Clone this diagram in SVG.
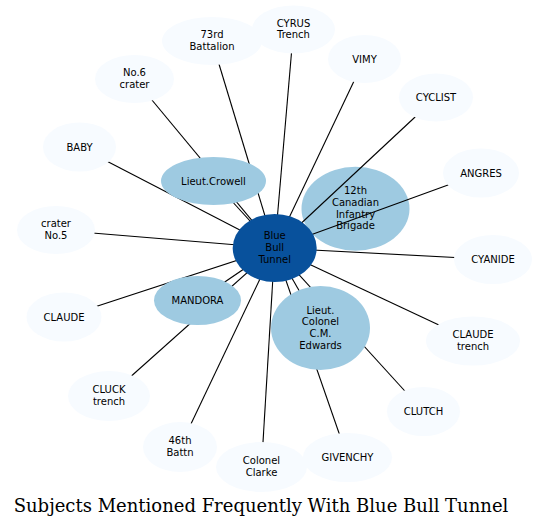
<svg xmlns="http://www.w3.org/2000/svg" width="549" height="528" viewBox="0 0 549 528">
<style>
text{font-family:"DejaVu Sans",sans-serif;font-size:10px;text-anchor:middle;fill:#000}
.o{fill:#f7fbff}
.i{fill:#9ecae1}
.c{fill:#08519c}
#edges line{stroke:#000;stroke-width:1.1}
.title{font-family:"DejaVu Serif",serif;font-size:18px}
</style>
<rect width="549" height="528" fill="#fff"/>
<g id="n-12th"><ellipse class="i" cx="355.5" cy="208.7" rx="54" ry="42"/><text x="355.5" y="194.2">12th</text><text x="355.5" y="205.9">Canadian</text><text x="355.5" y="217.6">Infantry</text><text x="355.5" y="229.3">Brigade</text></g>
<g id="edges">
<line x1="274.7" y1="248" x2="212" y2="41"/>
<line x1="274.7" y1="248" x2="293.5" y2="29.5"/>
<line x1="274.7" y1="248" x2="364.5" y2="59"/>
<line x1="274.7" y1="248" x2="436" y2="97.5"/>
<line x1="274.7" y1="248" x2="134.5" y2="79"/>
<line x1="274.7" y1="248" x2="79.5" y2="147"/>
<line x1="274.7" y1="248" x2="481" y2="173"/>
<line x1="274.7" y1="248" x2="56" y2="230"/>
<line x1="274.7" y1="248" x2="493" y2="259.5"/>
<line x1="274.7" y1="248" x2="64" y2="317"/>
<line x1="274.7" y1="248" x2="473" y2="341"/>
<line x1="274.7" y1="248" x2="109" y2="396"/>
<line x1="274.7" y1="248" x2="423.5" y2="411.5"/>
<line x1="274.7" y1="248" x2="180" y2="447"/>
<line x1="274.7" y1="248" x2="261.5" y2="467"/>
<line x1="274.7" y1="248" x2="347.5" y2="457.5"/>
<line x1="274.7" y1="248" x2="213.5" y2="181"/>
<line x1="274.7" y1="248" x2="197.5" y2="300.5"/>
<line x1="274.7" y1="248" x2="320.5" y2="328"/>
<line x1="274.7" y1="248" x2="309.7" y2="231"/>
</g>
<g id="n-73rd"><ellipse class="o" cx="212" cy="41" rx="50" ry="24"/><text x="212" y="38.2">73rd</text><text x="212" y="49.8">Battalion</text></g>
<g id="n-cyrus"><ellipse class="o" cx="293.5" cy="29.5" rx="41.5" ry="24"/><text x="293.5" y="26.6">CYRUS</text><text x="293.5" y="38.3">Trench</text></g>
<g id="n-vimy"><ellipse class="o" cx="364.5" cy="59" rx="36.5" ry="24"/><text x="364.5" y="62.5">VIMY</text></g>
<g id="n-cyclist"><ellipse class="o" cx="436" cy="97.5" rx="37" ry="24"/><text x="436" y="101">CYCLIST</text></g>
<g id="n-no6"><ellipse class="o" cx="134.5" cy="79" rx="39.5" ry="24"/><text x="134.5" y="76.2">No.6</text><text x="134.5" y="87.8">crater</text></g>
<g id="n-baby"><ellipse class="o" cx="79.5" cy="147" rx="36.5" ry="24.5"/><text x="79.5" y="150.5">BABY</text></g>
<g id="n-angres"><ellipse class="o" cx="481" cy="173" rx="38" ry="24.5"/><text x="481" y="176.5">ANGRES</text></g>
<g id="n-crater5"><ellipse class="o" cx="56" cy="230" rx="39" ry="24"/><text x="56" y="227">crater</text><text x="56" y="238.7">No.5</text></g>
<g id="n-cyanide"><ellipse class="o" cx="493" cy="259.5" rx="39" ry="24.5"/><text x="493" y="263">CYANIDE</text></g>
<g id="n-claude"><ellipse class="o" cx="64" cy="317" rx="37.5" ry="24.5"/><text x="64" y="320.5">CLAUDE</text></g>
<g id="n-claudetrench"><ellipse class="o" cx="473" cy="341" rx="47" ry="24.5"/><text x="473" y="338.2">CLAUDE</text><text x="473" y="349.8">trench</text></g>
<g id="n-cluck"><ellipse class="o" cx="109" cy="396" rx="41" ry="25"/><text x="109" y="393.2">CLUCK</text><text x="109" y="404.8">trench</text></g>
<g id="n-clutch"><ellipse class="o" cx="423.5" cy="411.5" rx="36.5" ry="24.5"/><text x="423.5" y="415">CLUTCH</text></g>
<g id="n-46th"><ellipse class="o" cx="180" cy="447" rx="37" ry="25"/><text x="180" y="444.2">46th</text><text x="180" y="455.8">Battn</text></g>
<g id="n-clarke"><ellipse class="o" cx="261.5" cy="467" rx="45.5" ry="25"/><text x="261.5" y="464.2">Colonel</text><text x="261.5" y="475.8">Clarke</text></g>
<g id="n-givenchy"><ellipse class="o" cx="347.5" cy="457.5" rx="44.5" ry="24.5"/><text x="347.5" y="461">GIVENCHY</text></g>
<g id="n-crowell"><ellipse class="i" cx="213.5" cy="181" rx="52.5" ry="24"/><text x="213.5" y="184.5">Lieut.Crowell</text></g>
<g id="n-mandora"><ellipse class="i" cx="197.5" cy="300.5" rx="43.5" ry="24.5"/><text x="197.5" y="304">MANDORA</text></g>
<g id="n-edwards"><ellipse class="i" cx="320.5" cy="328" rx="49.5" ry="42"/><text x="320.5" y="313.5">Lieut.</text><text x="320.5" y="325.2">Colonel</text><text x="320.5" y="336.9">C.M.</text><text x="320.5" y="348.6">Edwards</text></g>
<g id="n-center"><ellipse class="c" cx="274.7" cy="248" rx="42" ry="34"/><text x="274.7" y="239.3">Blue</text><text x="274.7" y="251">Bull</text><text x="274.7" y="262.7">Tunnel</text></g>
<text class="title" x="261" y="512">Subjects Mentioned Frequently With Blue Bull Tunnel</text>
</svg>
